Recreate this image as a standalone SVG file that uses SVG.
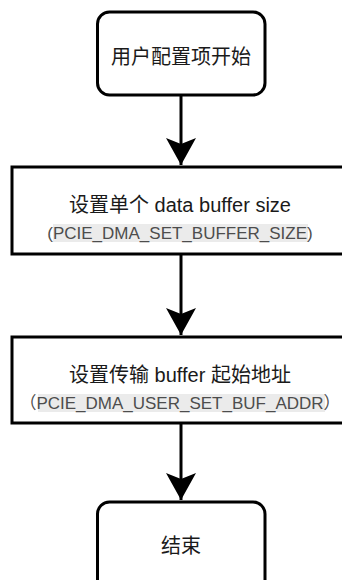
<svg xmlns="http://www.w3.org/2000/svg" width="342" height="580" viewBox="0 0 342 580">
<style>
.box{fill:#ffffff;stroke:#000000;stroke-width:3}
.t{font-family:"Liberation Sans","Noto Sans CJK SC",sans-serif;font-size:20px;fill:#1a1a1a;text-anchor:middle}
.s{font-family:"Liberation Sans","Noto Sans CJK SC",sans-serif;font-size:17px;fill:#4d4d4d;text-anchor:middle}
.hl{fill:#ebebeb}
.edge{stroke:#000000;stroke-width:3;fill:none}
</style>
<defs>
<marker id="arrow" markerUnits="userSpaceOnUse" markerWidth="30" markerHeight="32" refX="27" refY="15" orient="auto" overflow="visible">
<path d="M0,0 L27,15 L0,30 L6,15 Z" fill="#000000"/>
</marker>
</defs>
<rect width="342" height="580" fill="#ffffff"/>
<g id="connectors">
<line class="edge" x1="181" y1="95" x2="181" y2="165" marker-end="url(#arrow)"/>
<line class="edge" x1="181" y1="254" x2="181" y2="335" marker-end="url(#arrow)"/>
<line class="edge" x1="181" y1="423" x2="181" y2="500" marker-end="url(#arrow)"/>
</g>
<g id="start">
<rect class="box" x="97.5" y="12" width="167.5" height="83" rx="12" ry="12"/>
<text class="t" x="181" y="64">用户配置项开始</text>
</g>
<g id="set-size">
<rect class="box" x="12" y="167" width="340" height="87"/>
<text class="t" x="180" y="212">设置单个 data buffer size</text>
<rect class="hl" x="53" y="224" width="255" height="18"/>
<text class="s" x="180" y="239">(PCIE_DMA_SET_BUFFER_SIZE)</text>
</g>
<g id="set-addr">
<rect class="box" x="12" y="337" width="340" height="86"/>
<text class="t" x="180" y="382">设置传输 buffer 起始地址</text>
<rect class="hl" x="38" y="394" width="287" height="18"/>
<text class="s" x="180" y="409">（PCIE_DMA_USER_SET_BUF_ADDR）</text>
</g>
<g id="end">
<rect class="box" x="97.5" y="502" width="167.5" height="95" rx="12" ry="12"/>
<text class="t" x="181" y="553">结束</text>
</g>
</svg>
